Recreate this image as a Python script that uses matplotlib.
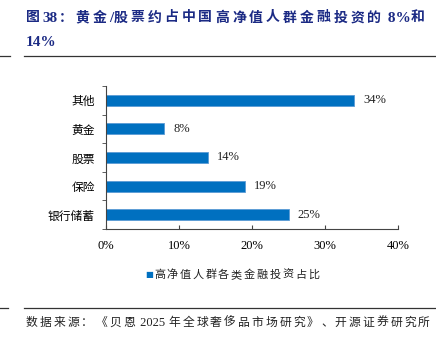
import numpy as np
import matplotlib.pyplot as plt
from matplotlib.lines import Line2D

# data
categories = ['银行储蓄', '保险', '股票', '黄金', '其他']
shares = [25, 19, 14, 8, 34]
x_ticks = [0, 10, 20, 30, 40]
series_name = '高净值人群各类金融投资占比'

title_line1 = '图38：黄金/股票约占中国高净值人群金融投资的 8%和'
title_line2 = '14%'
source_text = '数据来源：《贝恩 2025 年全球奢侈品市场研究》、开源证券研究所'

plt.rcParams['font.family'] = ['Liberation Serif', 'Noto Sans CJK SC', 'DejaVu Sans']

bar_color = '#0070C0'
title_color = '#1B2A84'
W, H = 436, 348

fig = plt.figure(figsize=(4.36, 3.48), dpi=100)
renderer = fig.canvas.get_renderer()


def tokens(s):
    # ascii runs stay together, every other char is its own token
    out, buf = [], ''
    for ch in s:
        if ord(ch) < 128:
            buf += ch
        else:
            if buf:
                out.append(buf)
                buf = ''
            out.append(ch)
    if buf:
        out.append(buf)
    return out


def spaced_text(x_px, y_px, s, spacing, size, ascii_size=None, **kw):
    # draw text token by token so the CJK chars get the wide spacing of the reference
    x = x_px
    for tok in tokens(s):
        is_ascii = ord(tok[0]) < 128
        fs = ascii_size if (is_ascii and ascii_size) else size
        t = fig.text(x / W, 1 - y_px / H, tok, va='center', ha='left', fontsize=fs, **kw)
        w = t.get_window_extent(renderer).width
        x += w + (0.5 if is_ascii else spacing)


ax = fig.add_axes([0.243, 0.342, 0.67, 0.411])

y = np.arange(len(categories))
ax.barh(y, shares, height=0.38, color=bar_color, edgecolor='#5B9BD5', linewidth=0.6)
for yi, v in zip(y, shares):
    ax.text(v + 1.2, yi, f'{v}%', va='center', ha='left', fontsize=9, color='#222222')

ax.set_xlim(0, 40)
ax.set_ylim(-0.5, len(categories) - 0.5)
ax.set_xticks(x_ticks)
ax.set_xticklabels([f'{t}%' for t in x_ticks], fontsize=9)
ax.set_yticks(y)
ax.set_yticklabels(categories, fontsize=8.5, family=['Noto Sans CJK SC'])
ax.tick_params(axis='y', length=0, pad=8)
ax.set_yticks(np.arange(-0.5, len(categories), 1.0), minor=True)
ax.tick_params(axis='y', which='minor', length=3, direction='out', color='#444444')
ax.tick_params(axis='x', direction='in', length=3, color='#444444', pad=8)
for s in ['top', 'right']:
    ax.spines[s].set_visible(False)
for s in ['left', 'bottom']:
    ax.spines[s].set_color('#444444')
    ax.spines[s].set_linewidth(0.8)

# legend
fig.text(145 / W, 1 - 275 / H, '■', color=bar_color, fontsize=6, va='center', ha='left',
         family=['DejaVu Sans'])
spaced_text(154, 275, series_name, 1.7, 8, color='#222222')

# title
spaced_text(26, 18, title_line1, 3.0, 10, ascii_size=11, fontweight='bold', color=title_color)
spaced_text(26, 43, title_line2, 3.0, 10, ascii_size=11, fontweight='bold', color=title_color)

# rules
fig.add_artist(Line2D([24 / W, 1], [1 - 56 / H] * 2, color='#333333', lw=0.9))
fig.add_artist(Line2D([0, 10 / W], [1 - 56 / H] * 2, color='#333333', lw=0.9))
fig.add_artist(Line2D([24 / W, 1], [1 - 308 / H] * 2, color='#333333', lw=0.9))
fig.add_artist(Line2D([0, 8 / W], [1 - 308 / H] * 2, color='#333333', lw=0.9))

# source
spaced_text(26, 323, source_text, 2.1, 8.5, ascii_size=9, color='#222222')

fig.savefig('out.png', dpi=100, facecolor='w')
